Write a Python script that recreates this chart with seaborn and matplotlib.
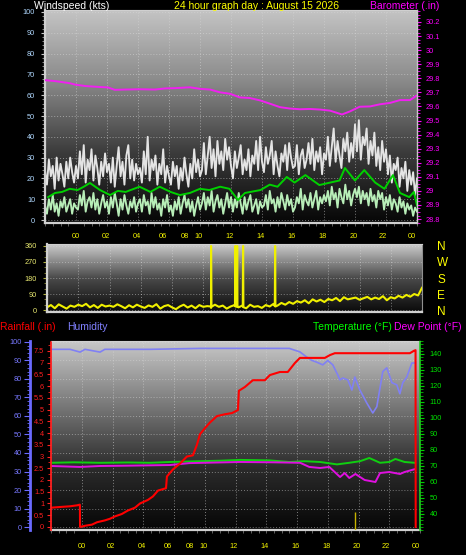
import numpy as np
import pandas as pd
import matplotlib
matplotlib.use("Agg")
import matplotlib.pyplot as plt
from matplotlib.colors import LinearSegmentedColormap
from matplotlib.ticker import MultipleLocator, FixedLocator, FormatStrFormatter
import seaborn as sns

plt.rcParams['font.family'] = ['Liberation Sans', 'DejaVu Sans']
plt.rcParams['axes.unicode_minus'] = False

# ---------------- data ----------------
hour_labels = ['00', '02', '04', '06', '08', '10', '12', '14', '16', '18', '20', '22', '00']
hour_label_pos = [2.0, 3.9, 5.9, 7.6, 9.0, 9.9, 11.9, 13.9, 15.9, 17.9, 19.9, 21.8, 23.7]
grid_hours = [2, 4, 6, 8, 10, 12, 14, 16, 18, 20, 22]

fine_hours = [i * 0.125 for i in range(193)]    # 7.5-minute wind samples
sample_hours = [i * 0.25 for i in range(97)]    # 15-minute direction samples

gust_kts = [
    24, 17, 29, 21, 26, 15, 30, 19, 27, 22, 16, 28, 20, 30, 23, 18, 26,
    20, 33, 22, 36, 18, 29, 24, 34, 19, 31, 25, 17, 28, 21, 32, 23,
    27, 18, 30, 16, 26, 35, 21, 28, 17, 31, 36, 20, 29, 19, 27, 22,
    25, 18, 33, 22, 40, 19, 29, 24, 31, 17, 27, 22, 34, 18, 26, 21,
    17, 28, 21, 26, 15, 25, 19, 30, 22, 16, 27, 20, 34, 23, 29, 21,
    24, 37, 22, 31, 40, 25, 34, 21, 38, 27, 33, 24, 39, 29, 35, 26,
    20, 33, 25, 30, 36, 22, 29, 24, 34, 21, 31, 27, 38, 24, 40, 28,
    23, 35, 27, 31, 38, 22, 33, 26, 21, 32, 28, 36, 24, 37, 30, 25,
    26, 36, 22, 31, 34, 25, 29, 37, 27, 39, 24, 33, 28, 35, 22, 32,
    29, 40, 26, 35, 44, 28, 38, 31, 25, 39, 33, 42, 28, 37, 30, 46,
    33, 48, 29, 40, 36, 44, 27, 38, 31, 42, 26, 35, 24, 38, 28, 34,
    22, 31, 18, 27, 24, 30, 16, 25, 20, 28, 14, 24, 17, 23, 12, 20]

speed_kts = [
    7, 3, 10, 5, 12, 4, 8, 2, 9, 6, 11, 4, 7, 10, 3, 8, 6,
    5, 12, 7, 14, 4, 9, 11, 6, 13, 5, 10, 3, 8, 12, 6, 9,
    3, 11, 6, 13, 8, 2, 10, 5, 12, 7, 3, 9, 6, 11, 4, 8,
    10, 4, 12, 7, 9, 3, 13, 6, 11, 5, 8, 2, 10, 6, 12, 4,
    7, 2, 9, 5, 11, 3, 8, 12, 6, 10, 4, 9, 2, 7, 11, 5,
    8, 13, 5, 11, 7, 14, 4, 9, 12, 6, 10, 3, 8, 13, 6, 11,
    4, 10, 6, 13, 8, 3, 11, 5, 9, 12, 4, 7, 10, 3, 9, 6,
    7, 12, 5, 14, 8, 10, 4, 11, 6, 13, 9, 5, 12, 7, 10, 4,
    6, 11, 8, 15, 5, 12, 9, 7, 13, 6, 10, 14, 5, 11, 8, 12,
    9, 14, 7, 16, 10, 13, 6, 15, 11, 8, 17, 10, 14, 7, 12, 15,
    11, 16, 8, 14, 10, 13, 7, 15, 9, 12, 6, 14, 10, 13, 5, 11,
    7, 12, 5, 10, 8, 4, 11, 6, 9, 3, 8, 5, 7, 2, 6, 4]

avg_hours = [0.2, 0.65, 1.1, 1.6, 2.1, 2.5, 2.9, 3.55, 4.2, 4.7, 5.2, 6.1, 6.8, 7.4, 8.1, 8.7,
             9.35, 10.0, 10.6, 11.3, 11.9, 12.45, 12.9, 13.9, 14.5, 15.0, 15.6, 16.1, 16.8,
             17.7, 18.4, 19.0, 19.35, 20.0, 20.6, 21.3, 21.9, 22.45, 22.9, 23.5, 23.8, 24.0]
avg_kts = [11, 13, 13.5, 15, 14.4, 16, 17.8, 14.4, 12, 14, 13.5, 16, 13.5, 16, 13.5, 12,
           13, 15, 14.4, 16, 15, 9.6, 13, 14.4, 17, 16, 20.7, 18, 21.6,
           16.8, 18, 19, 25, 19, 24, 18, 15, 21.6, 13, 11, 13.5, 7]

baro_hours = [0.06, 0.65, 0.97, 1.6, 1.94, 2.6, 3.55, 4.06, 4.5, 5.16, 6.13, 7.1, 7.74, 8.39,
              9.35, 10.0, 10.65, 11.3, 11.94, 12.58, 13.2, 13.87, 14.5, 15.16, 15.8, 16.45,
              17.1, 17.74, 18.39, 19.16, 19.68, 20.3, 20.97, 21.6, 22.26, 22.9, 23.55, 23.94]
baro_in = [29.786, 29.780, 29.775, 29.765, 29.755, 29.745, 29.738, 29.735, 29.718, 29.72,
           29.722, 29.72, 29.728, 29.73, 29.736, 29.725, 29.72, 29.70, 29.69, 29.664, 29.66,
           29.643, 29.62, 29.595, 29.585, 29.58, 29.582, 29.578, 29.57, 29.543, 29.565, 29.598,
           29.60, 29.615, 29.625, 29.645, 29.645, 29.675]

dir_deg = [
    15, 28, 10, 32, 20, 8, 25, 18, 30,
    22, 35, 15, 28, 12, 30, 20, 25,
    18, 32, 22, 10, 27, 15, 30, 20,
    12, 26, 18, 33, 8, 22, 28, 15,
    5, 20, 30, 14, 25, 10, 28, 18,
    22, 12, 30, 18, 25, 8, 20, 28,
    15, 25, 10, 30, 18, 22, 12, 28,
    20, 35, 25, 40, 30, 45, 35, 50,
    42, 55, 38, 60, 48, 58, 45, 62,
    55, 68, 50, 72, 60, 65, 70, 58,
    66, 74, 60, 70, 62, 78, 55, 72,
    65, 80, 70, 85, 75, 90, 82, 125]
spike_hours = [10.48, 10.5, 10.52, 12.03, 12.05, 12.07, 12.15, 12.17, 12.19,
               12.53, 12.55, 12.57, 14.58, 14.6, 14.62]
spike_deg = [20, 360, 18, 22, 360, 20, 18, 360, 24, 20, 360, 16, 22, 360, 20]

rain_hours = [0, 0.59, 1.24, 1.69, 1.88, 1.89, 2.21, 2.67, 2.99, 3.51, 3.84, 4.16, 4.6, 5.0,
              5.46, 5.79, 6.3, 6.63, 6.96, 7.48, 7.54, 7.93, 8.39, 8.84, 9.23, 9.49, 9.69,
              10.0, 10.34, 10.79, 11.31, 11.77, 12.16, 12.22, 12.61, 13.13, 13.91, 14.24,
              14.89, 15.4, 15.86, 16.19, 17.81, 18.14, 18.46, 23.34, 23.6, 23.71, 23.72]
rain_in = [0.82, 0.85, 0.88, 0.92, 0.95, 0.0, 0.05, 0.1, 0.2, 0.28, 0.35, 0.45, 0.55, 0.7,
           0.82, 1.0, 1.15, 1.3, 1.55, 1.65, 2.15, 2.45, 2.7, 3.0, 3.05, 3.5, 3.95,
           4.2, 4.45, 4.72, 4.8, 4.85, 4.98, 5.8, 5.96, 6.25, 6.25, 6.47,
           6.6, 6.6, 6.98, 7.2, 7.2, 7.32, 7.4, 7.4, 7.5, 7.53, 0.0]

rate_hours = [19.8]
rate_in = [0.64]

hum_hours = [0, 1.24, 1.89, 2.21, 3.19, 3.5, 6.44, 9.69, 12.94, 15.5, 16.19, 16.6, 16.97,
             17.3, 17.68, 18.0, 18.33, 18.66, 18.79, 18.98, 19.3, 19.57, 19.76, 20.09, 20.54,
             20.93, 21.19, 21.58, 21.84, 22.17, 22.49, 22.69, 22.88, 23.14, 23.47, 23.66]
hum_pct = [96, 96, 94.5, 96, 94.5, 96, 96, 96.5, 96.5, 96.5, 94.6, 92, 90,
           89, 87.6, 90, 87.6, 82, 79.5, 80.5, 79.5, 74, 81, 74, 67,
           61.6, 65, 84, 86, 78, 76.8, 72, 78, 81, 88.6, 88.6]

temp_hours = [0, 1.5, 3.19, 5.0, 6.44, 7.74, 9.69, 11.0, 12.3, 14.2, 15.5, 16.5, 17.5, 18.6,
              19.4, 20.1, 20.7, 21.4, 22.0, 22.4, 23.0, 23.66]
temp_f = [72, 72.3, 72, 72.2, 72, 72.5, 73, 73.3, 73.8, 73.5, 72.5, 73, 72.5, 71,
          72, 73, 75, 72, 72.5, 74.4, 72.5, 72]

dew_hours = [0, 1.89, 3.2, 5.0, 7.74, 9.0, 12.3, 14.5, 16.2, 16.8, 17.5, 18.1, 18.8, 19.1,
             19.4, 19.8, 20.4, 21.1, 21.4, 22.0, 22.7, 23.0, 23.66]
dew_f = [70, 69.4, 70, 70.2, 70.6, 71.8, 72.5, 72.3, 72, 69.4, 68.75, 69.4, 63.1, 65.6,
         62.5, 65, 61.25, 60, 65.6, 66.25, 65, 66.25, 68]

wind_ticks = [0, 10, 20, 30, 40, 50, 60, 70, 80, 90, 100]
baro_ticks = [28.8, 28.9, 29.0, 29.1, 29.2, 29.3, 29.4, 29.5, 29.6, 29.7, 29.8, 29.9, 30.0, 30.1, 30.2]
dir_ticks = [0, 90, 180, 270, 360]
dir_compass = ['N', 'E', 'S', 'W', 'N']
rain_ticks = [0, 0.5, 1, 1.5, 2, 2.5, 3, 3.5, 4, 4.5, 5, 5.5, 6, 6.5, 7, 7.5]
hum_ticks = [0, 10, 20, 30, 40, 50, 60, 70, 80, 90, 100]
temp_ticks = [40, 50, 60, 70, 80, 90, 100, 110, 120, 130, 140]

# ---------------- figure ----------------
W, H = 466, 555
fig = plt.figure(figsize=(W / 100, H / 100), dpi=100, facecolor='black')


def rect(l, t, r, b):
    return [l / W, 1 - b / H, (r - l) / W, (b - t) / H]


def paint(ax, stops):
    cmap = LinearSegmentedColormap.from_list('bg', stops)
    grad = np.linspace(1, 0, 256).reshape(-1, 1)
    ax.imshow(grad, cmap=cmap, aspect='auto', extent=(0, 1, 0, 1),
              transform=ax.transAxes, zorder=-5, interpolation='bilinear')


def vgrid(ax):
    for h in grid_hours:
        ax.axvline(h, color='#d8d8d8', lw=0.7, ls=(0, (1, 2)), alpha=0.55, zorder=-1)


def hide_spines(ax, keep=()):
    for k, s in ax.spines.items():
        s.set_visible(k in keep)


LIGHT = '#d0d0d0'
YEL = '#f4f400'
FS = 5.3

# ---------- Panel 1: wind + barometer ----------
ax1 = fig.add_axes(rect(45, 10, 417, 223))
ax1.set_facecolor('black')
paint(ax1, ['#060606', '#3c3c3c', '#8a8a8a', '#c4c4c4'])
vgrid(ax1)
sns.lineplot(x=fine_hours, y=gust_kts, ax=ax1, color='#e4e4e4', lw=1.35, estimator=None, legend=False)
sns.lineplot(x=fine_hours, y=speed_kts, ax=ax1, color='#b8eeb8', lw=1.35, estimator=None, legend=False)
sns.lineplot(x=avg_hours, y=avg_kts, ax=ax1, color='#00d000', lw=1.4, estimator=None, legend=False)
ax1.set_xlim(0, 24)
ax1.set_ylim(-1.44, 100.96)
ax1.yaxis.set_major_locator(FixedLocator(wind_ticks))
ax1.yaxis.set_minor_locator(MultipleLocator(2))
ax1.yaxis.grid(True, color='#d8d8d8', lw=0.7, ls=(0, (1, 2)), alpha=0.55)
ax1.xaxis.set_major_locator(FixedLocator(hour_label_pos))
ax1.set_xticklabels(hour_labels)
ax1.xaxis.set_minor_locator(MultipleLocator(0.5))
ax1.tick_params(axis='y', which='major', length=3, color='#c8c8c8', labelcolor='#b0d8ff', labelsize=FS, pad=4)
ax1.tick_params(axis='y', which='minor', length=2, color='#a0a0a0')
ax1.tick_params(axis='x', which='major', length=0, labelcolor=YEL, labelsize=FS, pad=7)
ax1.tick_params(axis='x', which='minor', length=2, color='#707070')
ax1.set_xlabel('')
ax1.set_ylabel('')
for k in ('left', 'bottom', 'top'):
    ax1.spines[k].set_color(LIGHT)
ax1.spines['left'].set_linewidth(1.6)
ax1.spines['bottom'].set_linewidth(1.6)
ax1.spines['top'].set_linewidth(0.8)
ax1.spines['right'].set_visible(False)

ax1b = ax1.twinx()
sns.lineplot(x=baro_hours, y=baro_in, ax=ax1b, color='#f020f0', lw=1.4, estimator=None, legend=False)
ax1b.set_xlim(0, 24)
ax1b.set_ylim(28.772, 30.285)
ax1b.yaxis.set_major_locator(FixedLocator(baro_ticks))
ax1b.yaxis.set_major_formatter(FormatStrFormatter('%g'))
ax1b.yaxis.set_minor_locator(MultipleLocator(0.025))
ax1b.tick_params(axis='y', which='major', length=3, color='#ff00ff', labelcolor='#ff00ff', labelsize=FS, pad=3)
ax1b.tick_params(axis='y', which='minor', length=2, color='#ff00ff')
ax1b.set_ylabel('')
hide_spines(ax1b, ('right',))
ax1b.spines['right'].set_color('#c8c8c8')
ax1b.spines['right'].set_linewidth(1.0)

# ---------- Panel 2: wind direction ----------
ax2 = fig.add_axes(rect(47, 244, 422, 312))
ax2.set_facecolor('black')
paint(ax2, ['#0a0a0a', '#4a4a4a', '#cccccc'])
vgrid(ax2)
dir_df = pd.DataFrame({'hour': sample_hours + spike_hours, 'deg': dir_deg + spike_deg}).sort_values('hour')
sns.lineplot(data=dir_df, x='hour', y='deg', ax=ax2, color='#f0f000', lw=1.5, estimator=None, legend=False)
ax2.set_xlim(0, 24)
ax2.set_ylim(-11, 371)
ax2.yaxis.set_major_locator(FixedLocator(dir_ticks))
ax2.yaxis.set_minor_locator(MultipleLocator(30))
ax2.yaxis.grid(True, color='#d8d8d8', lw=0.7, ls=(0, (1, 2)), alpha=0.5)
ax2.set_xticks([])
ax2.tick_params(axis='y', which='major', length=3, color='#b0b040', labelcolor='#e8e870', labelsize=FS, pad=4)
ax2.tick_params(axis='y', which='minor', length=2, color='#909030')
ax2.set_xlabel('')
ax2.set_ylabel('')
for k in ('left', 'bottom', 'top'):
    ax2.spines[k].set_color(LIGHT)
ax2.spines['left'].set_linewidth(1.6)
ax2.spines['bottom'].set_linewidth(1.6)
ax2.spines['top'].set_linewidth(0.8)
ax2.spines['right'].set_color('#909090')

ax2b = ax2.twinx()
ax2b.set_ylim(-11, 371)
ax2b.yaxis.set_major_locator(FixedLocator(dir_ticks))
ax2b.set_yticklabels(dir_compass)
ax2b.tick_params(axis='y', length=0, labelcolor='#ffff00', labelsize=8.5, pad=11)
hide_spines(ax2b)

# ---------- Panel 3: humidity / rain / temperature ----------
ax3 = fig.add_axes(rect(51, 341, 420, 530))
ax3.set_facecolor('black')
paint(ax3, ['#060606', '#2c2c2c', '#7a7a7a', '#c8c8c8'])
vgrid(ax3)
sns.lineplot(x=hum_hours, y=hum_pct, ax=ax3, color='#8080f4', lw=1.2, estimator=None, legend=False)
ax3.set_xlim(0, 24)
ax3.set_ylim(-1.6, 100.5)
ax3.yaxis.set_major_locator(FixedLocator(hum_ticks))
ax3.yaxis.set_minor_locator(MultipleLocator(2))
ax3.yaxis.grid(True, color='#d8d8d8', lw=0.7, ls=(0, (1, 2)), alpha=0.5)
ax3.xaxis.set_major_locator(FixedLocator(hour_label_pos))
ax3.set_xticklabels(hour_labels)
ax3.xaxis.set_minor_locator(MultipleLocator(0.5))
ax3.tick_params(axis='y', which='major', length=4, color='#6a6aff', labelcolor='#7878ff', labelsize=FS, pad=2)
ax3.tick_params(axis='y', which='minor', length=2.5, color='#6a6aff')
ax3.tick_params(axis='x', which='major', length=0, labelcolor=YEL, labelsize=FS, pad=9)
ax3.tick_params(axis='x', which='minor', length=2, color='#707070')
ax3.set_xlabel('')
ax3.set_ylabel('')
ax3.spines['left'].set_position(('outward', 21 * 0.72))
ax3.spines['left'].set_color('#6a6aff')
ax3.spines['left'].set_linewidth(2.0)
ax3.spines['bottom'].set_color(LIGHT)
ax3.spines['bottom'].set_linewidth(1.6)
ax3.spines['top'].set_color(LIGHT)
ax3.spines['top'].set_linewidth(0.8)
ax3.spines['right'].set_visible(False)

ax3t = ax3.twinx()
sns.lineplot(x=temp_hours, y=temp_f, ax=ax3t, color='#10d010', lw=1.4, estimator=None, legend=False)
sns.lineplot(x=dew_hours, y=dew_f, ax=ax3t, color='#e010e0', lw=1.4, estimator=None, legend=False)
ax3t.set_xlim(0, 24)
ax3t.set_ylim(30, 148.1)
ax3t.yaxis.set_major_locator(FixedLocator(temp_ticks))
ax3t.yaxis.set_minor_locator(MultipleLocator(2))
ax3t.tick_params(axis='y', which='major', length=3, color='#00d000', labelcolor='#00e000', labelsize=FS, pad=4)
ax3t.tick_params(axis='y', which='minor', length=2, color='#00c000')
ax3t.set_ylabel('')
hide_spines(ax3t, ('right',))
ax3t.spines['right'].set_color('#20d020')
ax3t.spines['right'].set_linestyle((0, (2, 1)))
ax3t.spines['right'].set_linewidth(1.2)

ax3r = ax3.twinx()
ax3r.yaxis.tick_left()
ax3r.yaxis.set_label_position('left')
ax3r.vlines(rate_hours, -0.13, rate_in, color='#c8b400', lw=1.0)
sns.lineplot(x=rain_hours, y=rain_in, ax=ax3r, color='#ff0000', lw=1.5, estimator=None, legend=False)
ax3r.set_xlim(0, 24)
ax3r.set_ylim(-0.13, 7.92)
ax3r.yaxis.set_major_locator(FixedLocator(rain_ticks))
ax3r.yaxis.set_major_formatter(FormatStrFormatter('%g'))
ax3r.yaxis.set_minor_locator(MultipleLocator(0.25))
ax3r.tick_params(axis='y', which='major', length=3, color='#ff2020', labelcolor='#ff2020', labelsize=FS, pad=2)
ax3r.tick_params(axis='y', which='minor', length=2, color='#ff2020')
ax3r.set_ylabel('')
hide_spines(ax3r, ('left',))
ax3r.spines['left'].set_color('#ff2020')
ax3r.spines['left'].set_linestyle((0, (2, 1)))
ax3r.spines['left'].set_linewidth(1.3)

# ---------- headers ----------
TFS = 7.5
fig.text(34 / W, 1 - 6 / H, 'Windspeed (kts)', color='white', fontsize=TFS, ha='left', va='center')
fig.text(257 / W, 1 - 6 / H, '24 hour graph day : August 15 2026', color='#ffff00', fontsize=TFS, ha='center', va='center')
fig.text(439 / W, 1 - 6 / H, 'Barometer (.in)', color='#ff00ff', fontsize=TFS, ha='right', va='center')
fig.text(0 / W, 1 - 327 / H, 'Rainfall (.in)', color='#ff0000', fontsize=TFS, ha='left', va='center')
fig.text(67 / W, 1 - 327 / H, 'Humidity', color='#8080ff', fontsize=TFS, ha='left', va='center')
fig.text(313 / W, 1 - 327 / H, 'Temperature (°F)', color='#00ff00', fontsize=TFS, ha='left', va='center')
fig.text(462 / W, 1 - 327 / H, 'Dew Point (°F)', color='#ff00ff', fontsize=TFS, ha='right', va='center')

fig.savefig('out.png', dpi=100, facecolor='black')
